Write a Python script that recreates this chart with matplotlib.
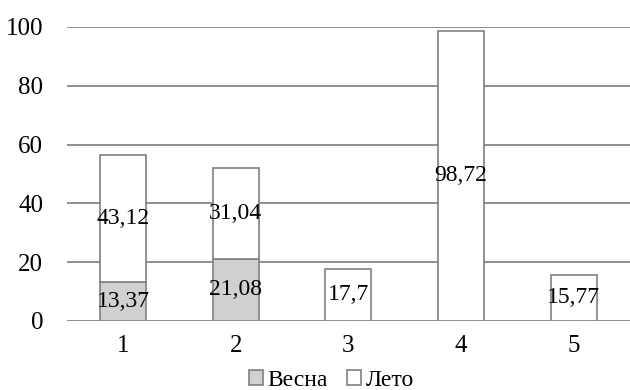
import matplotlib.pyplot as plt
import numpy as np

categories = ["1", "2", "3", "4", "5"]
spring = [13.37, 21.08, 0, 0, 0]
summer = [43.12, 31.04, 17.7, 98.72, 15.77]
spring_labels = ["13,37", "21,08", "", "", ""]
summer_labels = ["43,12", "31,04", "17,7", "98,72", "15,77"]

plt.rcParams["font.family"] = ["Liberation Serif", "DejaVu Serif"]

fig = plt.figure(figsize=(6.3, 3.9), dpi=100)
ax = fig.add_axes([0.106, 0.177, 0.894, 0.754])

x = np.arange(len(categories))
width = 0.41
edge = "#7f7f7f"

ax.bar(x, spring, width, color="#d0d0d0", edgecolor=edge, linewidth=1.2,
       label="Весна", zorder=3)
ax.bar(x, summer, width, bottom=spring, color="white", edgecolor=edge,
       linewidth=1.2, label="Лето", zorder=3)

for i in range(len(categories)):
    if spring[i] > 0:
        ax.text(x[i], spring[i] / 2, spring_labels[i], ha="center",
                va="center", fontsize=17, zorder=4)
    ax.text(x[i], spring[i] + summer[i] / 2, summer_labels[i], ha="center",
            va="center", fontsize=17, zorder=4)

ax.set_xlim(-0.5, 4.5)
ax.set_ylim(0, 100)
ax.set_yticks(range(0, 101, 20))
ax.set_xticks(x)
ax.set_xticklabels(categories)
ax.tick_params(axis="both", length=0, labelsize=18)
ax.tick_params(axis="x", pad=10)
ax.tick_params(axis="y", pad=17)
ax.grid(axis="y", color="#868686", linewidth=1.3, zorder=0)
for spine in ax.spines.values():
    spine.set_visible(False)

ax.legend(loc="upper center", bbox_to_anchor=(0.47, -0.125), ncol=2,
          frameon=False, fontsize=17, handlelength=0.6, handleheight=0.6,
          handletextpad=0.2, columnspacing=0.8, borderpad=0)

fig.savefig("out.png", dpi=100)
